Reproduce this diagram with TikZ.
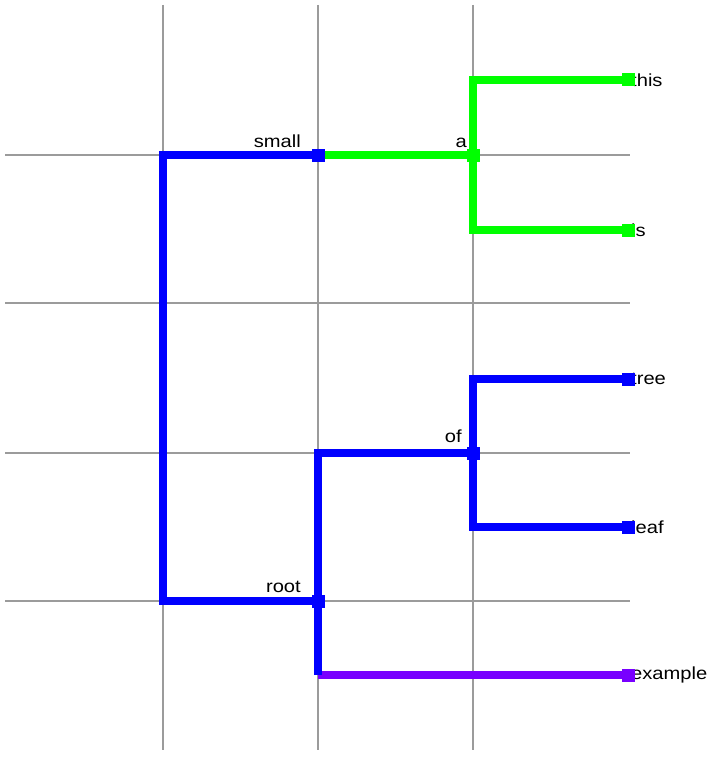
\documentclass[tikz,border=0pt]{standalone}
\usepackage{fontspec}
\setmainfont{Liberation Sans}
\usepackage{tikz}
\definecolor{treeblue}{RGB}{0,0,255}
\definecolor{treegreen}{RGB}{0,255,0}
\definecolor{treeviolet}{RGB}{120,0,255}
\definecolor{gridgray}{RGB}{155,155,155}
\tikzset{
  gridline/.style={gridgray,line width=2.6},
  branch/.style={line width=7.5},
  knot/.style={minimum size=13,inner sep=0,fill,draw=none},
  leaflabel/.style={anchor=west,inner sep=0,xscale=1.15,font=\fontsize{17.5}{17.5}\selectfont},
  innerlabel/.style={anchor=base east,inner sep=0,xscale=1.15,font=\fontsize{17.5}{17.5}\selectfont}
}

\begin{document}
\begin{tikzpicture}[x=1pt,y=-1pt]
        \useasboundingbox (0,0) rectangle (717,757);
        % grid
        \foreach \gx in {163,318,473}
          \draw[gridline] (\gx,5) -- (\gx,750);
        \foreach \gy in {155,303,453,601}
          \draw[gridline] (5,\gy) -- (630,\gy);
        % nodes of the tree
        \coordinate (root) at (318,601);
        \coordinate (small) at (318,155);
        \coordinate (a) at (473,155);
        \coordinate (of) at (473,453);
        \coordinate (this) at (628,80);
        \coordinate (is) at (628,230);
        \coordinate (tree) at (628,379);
        \coordinate (leaf) at (628,527);
        \coordinate (example) at (628,675);
        \coordinate (bend) at (163,601);
        \coordinate (low) at (318,675);
        % branches
        \draw[branch,treeviolet] (low) -- (example);
        \draw[branch,treeblue] (root) -- (low);
        \draw[branch,treeblue] (root) -- (bend) |- (small);
        \draw[branch,treeblue] (root) |- (of);
        \draw[branch,treeblue] (of) |- (tree);
        \draw[branch,treeblue] (of) |- (leaf);
        \draw[branch,treegreen] (small) -- (a);
        \draw[branch,treegreen] (a) |- (this);
        \draw[branch,treegreen] (a) |- (is);
        % labels
        \node[innerlabel] (smalltext) at (301,147) {small};
        \node[innerlabel] (atext) at (467,147) {a};
        \node[innerlabel] (oftext) at (462,442) {of};
        \node[innerlabel] (roottext) at (301,592) {root};
        \foreach \lf in {this,is,tree,leaf,example}
          \node[leaflabel] (\lf text) at ([xshift=3]\lf) {\lf};
        % knots
        \node[knot,treeblue] (rootknot) at (root) {};
        \node[knot,treeblue] (smallknot) at (small) {};
        \node[knot,treegreen] (aknot) at (a) {};
        \node[knot,treeblue] (ofknot) at (of) {};
        \node[knot,treegreen] (thisknot) at (this) {};
        \node[knot,treegreen] (isknot) at (is) {};
        \node[knot,treeblue] (treeknot) at (tree) {};
        \node[knot,treeblue] (leafknot) at (leaf) {};
        \node[knot,treeviolet] (exampleknot) at (example) {};
      \end{tikzpicture}
\end{document}
